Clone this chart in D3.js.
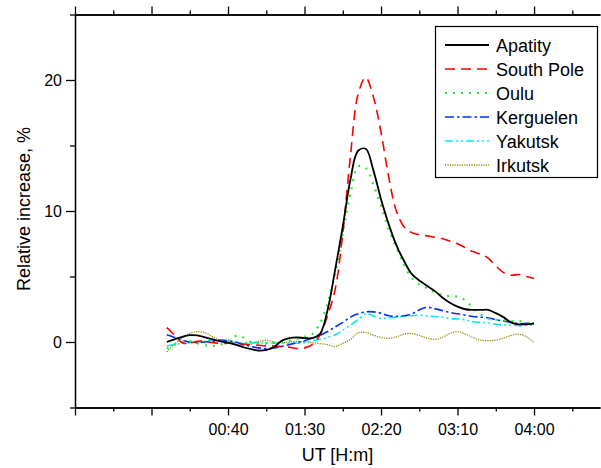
<!DOCTYPE html>
<html>
<head>
<meta charset="utf-8">
<script src="https://cdn.jsdelivr.net/npm/d3@7"></script>
<style>
  body { margin: 0; background: #fff; }
  svg { display: block; font-family: Arial, "Liberation Sans", sans-serif; }
</style>
</head>
<body>
<script>
// minutes after 00:00 UT
var times = [0, 5, 10, 15, 20, 25, 30, 35, 40, 45, 50, 55, 60, 65, 70, 75, 80, 85, 90, 95,
  100, 105, 110, 115, 120, 125, 130, 135, 140, 145, 150, 155, 160, 165, 170, 175, 180, 185,
  190, 195, 200, 205, 210, 215, 220, 225, 230, 235, 240];

var apatity = [0.0, 0.2, 0.4, 0.52, 0.5, 0.35, 0.2, 0.05, -0.05, -0.2, -0.4, -0.55, -0.65, -0.6,
  -0.4, 0.1, 0.3, 0.35, 0.3, 0.3, 0.6, 2.4, 5.5, 8.8, 12.4, 14.6, 14.75, 13.1, 10.9, 9.0, 7.4,
  6.2, 5.2, 4.7, 4.3, 3.9, 3.4, 3.0, 2.7, 2.5, 2.45, 2.45, 2.45, 2.2, 1.9, 1.5, 1.35, 1.35, 1.4];

var southPole = [1.1, 0.55, -0.05, -0.1, 0.05, 0.05, -0.05, -0.1, -0.1, -0.1, -0.15, -0.2, -0.25,
  -0.3, -0.3, -0.35, -0.4, -0.5, -0.45, -0.2, 0.5, 2.0, 4.0, 8.3, 14.2, 18.9, 20.2, 18.7, 16.0,
  12.6, 10.0, 8.8, 8.35, 8.2, 8.1, 8.0, 7.9, 7.7, 7.5, 7.2, 6.9, 6.7, 6.4, 5.8, 5.3, 5.1, 5.15,
  5.0, 4.85];

var oulu = [-0.5, -0.2, 0.0, 0.05, -0.1, -0.25, -0.3, -0.2, 0.1, 0.45, 0.35, 0.0, -0.1, -0.1,
  -0.05, 0.0, 0.1, 0.25, 0.4, 0.6, 1.4, 2.9, 5.2, 8.3, 11.3, 13.4, 13.3, 12.0, 10.4, 8.6, 7.2,
  5.9, 4.9, 4.4, 4.1, 3.8, 3.6, 3.5, 3.45, 3.2, 2.6, 2.1, 1.8, 1.7, 1.65, 1.6, 1.6, 1.5, 1.3];

var kerguelen = [0.55, 0.35, 0.15, 0.0, -0.05, 0.0, 0.05, 0.15, 0.1, 0.0, -0.2, -0.35, -0.45,
  -0.5, -0.45, -0.35, -0.2, -0.05, 0.1, 0.3, 0.5, 0.8, 1.15, 1.5, 1.9, 2.15, 2.3, 2.3, 2.2, 2.0,
  1.95, 2.0, 2.15, 2.45, 2.65, 2.55, 2.4, 2.25, 2.15, 2.05, 1.95, 1.9, 1.85, 1.7, 1.6, 1.5, 1.4,
  1.42, 1.45];

var yakutsk = [-0.3, -0.2, -0.1, -0.05, 0.0, 0.05, 0.15, 0.1, 0.0, -0.05, -0.05, -0.05, -0.05,
  -0.05, -0.1, -0.1, -0.1, -0.1, -0.05, 0.1, 0.2, 0.35, 0.55, 0.9, 1.3, 1.7, 2.15, 2.0, 1.8,
  1.85, 1.9, 1.95, 2.0, 2.05, 2.0, 1.95, 1.9, 1.8, 1.75, 1.7, 1.55, 1.5, 1.45, 1.35, 1.3, 1.3,
  1.25, 1.3, 1.3];

var irkutsk = [-0.75, -0.15, 0.3, 0.65, 0.8, 0.7, 0.4, 0.1, -0.05, -0.2, -0.25, -0.15, 0.05,
  0.12, 0.0, -0.05, 0.0, 0.05, 0.02, -0.05, -0.12, -0.2, -0.35, -0.1, 0.2, 0.7, 0.72, 0.53,
  0.35, 0.28, 0.4, 0.6, 0.65, 0.5, 0.3, 0.2, 0.35, 0.65, 0.8, 0.6, 0.35, 0.15, 0.1, 0.15, 0.3,
  0.5, 0.6, 0.4, -0.05];

var stations = ["Apatity", "South Pole", "Oulu", "Kerguelen", "Yakutsk", "Irkutsk"];
var seriesValues = [apatity, southPole, oulu, kerguelen, yakutsk, irkutsk];

var majorX = [-60, -10, 40, 90, 140, 190, 240];
var minorX = [-35, 15, 65, 115, 165, 215, 265];
var majorY = [0, 10, 20];
var minorY = [-5, 5, 15, 25];

var styles = [
  { color: "#000000", dash: null, width: 1.8 },
  { color: "#ff0000", dash: "10,6", width: 1.6 },
  { color: "#22ee22", dash: "2,6", width: 2.2 },
  { color: "#0033ff", dash: "9,3,2.5,3", width: 1.6 },
  { color: "#00eeee", dash: "8,3,2,3,2,3", width: 1.6 },
  { color: "#8f8a00", dash: "1.2,1.2", width: 1.3 }
];

var W = 601, H = 468;
var plotL = 75, plotR = 600, plotT = 14.5, plotB = 407.5;

var x = d3.scaleLinear().domain([-60, 283.1]).range([plotL, plotR]);
var y = d3.scaleLinear().domain([-5, 25]).range([plotB, plotT]);

var svg = d3.select("body").append("svg")
  .attr("width", W)
  .attr("height", H);

function fmt(m) {
  if (m < 0) return "";
  var hh = Math.floor(m / 60), mm = m % 60;
  return (hh < 10 ? "0" : "") + hh + ":" + (mm < 10 ? "0" : "") + mm;
}

function styleAxis(g) {
  g.selectAll("path, line").attr("stroke", "#000").attr("stroke-width", 1.3);
  g.selectAll("text").attr("font-size", 16).attr("fill", "#000")
    .attr("font-family", "Arial, 'Liberation Sans', sans-serif");
}

// bottom axis
svg.append("g").attr("transform", "translate(0," + plotB + ")")
  .call(d3.axisBottom(x).tickValues(majorX).tickSize(8).tickPadding(8).tickSizeOuter(0).tickFormat(fmt))
  .call(styleAxis);
svg.append("g").attr("transform", "translate(0," + plotB + ")")
  .call(d3.axisBottom(x).tickValues(minorX).tickSize(4).tickSizeOuter(0).tickFormat(""))
  .call(styleAxis);

// top axis
svg.append("g").attr("transform", "translate(0," + plotT + ")")
  .call(d3.axisTop(x).tickValues(majorX).tickSize(8).tickSizeOuter(0).tickFormat(""))
  .call(styleAxis);
svg.append("g").attr("transform", "translate(0," + plotT + ")")
  .call(d3.axisTop(x).tickValues(minorX).tickSize(4).tickSizeOuter(0).tickFormat(""))
  .call(styleAxis);

// left axis
svg.append("g").attr("transform", "translate(" + plotL + ",0)")
  .call(d3.axisLeft(y).tickValues(majorY).tickSize(9).tickPadding(4).tickSizeOuter(0))
  .call(styleAxis);
svg.append("g").attr("transform", "translate(" + plotL + ",0)")
  .call(d3.axisLeft(y).tickValues(minorY).tickSize(5).tickSizeOuter(0).tickFormat(""))
  .call(styleAxis);

// axis titles
svg.append("text")
  .attr("x", (plotL + plotR) / 2)
  .attr("y", 461)
  .attr("text-anchor", "middle")
  .attr("font-size", 18)
  .text("UT [H:m]");

svg.append("text")
  .attr("transform", "translate(30," + 209 + ") rotate(-90)")
  .attr("text-anchor", "middle")
  .attr("font-size", 18)
  .text("Relative increase, %");

// curves
var line = d3.line()
  .x(function (d) { return x(d[0]); })
  .y(function (d) { return y(d[1]); })
  .curve(d3.curveCatmullRom.alpha(0.5));

// draw back to front so black ends up on top
var order = [5, 4, 3, 2, 1, 0];
order.forEach(function (i) {
  var pts = times.map(function (t, k) { return [t, seriesValues[i][k]]; });
  svg.append("path")
    .datum(pts)
    .attr("d", line)
    .attr("fill", "none")
    .attr("stroke", styles[i].color)
    .attr("stroke-width", styles[i].width)
    .attr("stroke-dasharray", styles[i].dash);
});

// legend
var lg = svg.append("g");
lg.append("rect")
  .attr("x", 435.5).attr("y", 26.5)
  .attr("width", 162).attr("height", 151)
  .attr("fill", "#fff")
  .attr("stroke", "#000")
  .attr("stroke-width", 1.2);

stations.forEach(function (name, i) {
  var cy = 45 + i * 24;
  lg.append("line")
    .attr("x1", 445).attr("x2", 489)
    .attr("y1", cy).attr("y2", cy)
    .attr("stroke", styles[i].color)
    .attr("stroke-width", styles[i].width)
    .attr("stroke-dasharray", styles[i].dash);
  lg.append("text")
    .attr("x", 496)
    .attr("y", cy + 6.5)
    .attr("font-size", 18)
    .text(name);
});
</script>
</body>
</html>
